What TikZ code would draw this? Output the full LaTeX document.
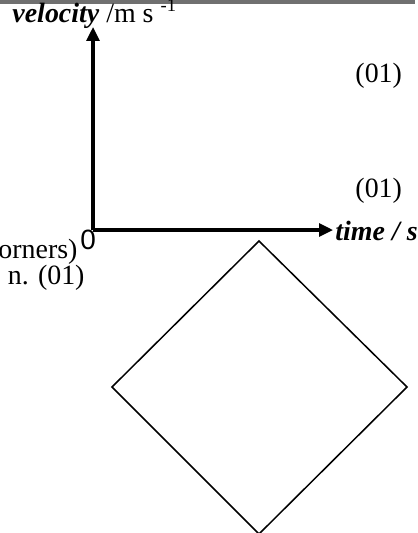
\documentclass[tikz,border=0pt]{standalone}
\usepackage{fontspec}
\setmainfont{Liberation Serif}
\newfontfamily\arialfont{Liberation Sans}
\usetikzlibrary{arrows.meta}
\definecolor{rulegray}{RGB}{112,112,112}

\begin{document}
\begin{tikzpicture}[x=0.43pt,y=-0.43pt,
	axis/.style={line width=1.3pt,-{Triangle[length=6pt,width=5.5pt]}},
	lbl/.style={inner sep=0pt,anchor=base west,font=\fontsize{12}{14}\selectfont}]
	\useasboundingbox (0,0) rectangle (417,533);
	\draw[rulegray,line width=1.6pt] (0,1.8) -- (415,1.8);
	% axes
	\coordinate (O) at (93,230);
	\coordinate (vtip) at (93,27);
	\coordinate (ttip) at (333,230);
	\draw[axis] (O) -- (vtip);
	\draw[axis] (O) -- (ttip);
	\node[lbl] (vel) at (12,22) {\textbf{\textit{velocity}} /m s \textsuperscript{-1}};
	\node[lbl] (time) at (335,240) {\textbf{\textit{time / s}}};
	\node[lbl,font=\fontsize{12}{14}\arialfont] (zero) at (80,249) {0};
	\node[lbl] (m1) at (355,82) {(01)};
	\node[lbl] (m2) at (355,197) {(01)};
	\node[lbl,anchor=base east] (corners) at (78,258) {orners)};
	\node[lbl,anchor=base east] (m3) at (85,284) {n. (01)};
	% square drawn on its corner
	\coordinate (dt) at (259,241);
	\coordinate (dr) at (407,387);
	\coordinate (db) at (259,534);
	\coordinate (dl) at (112,387);
	\draw[line width=0.65pt] (dt) -- (dr) -- (db) -- (dl) -- cycle;
\end{tikzpicture}
\end{document}
